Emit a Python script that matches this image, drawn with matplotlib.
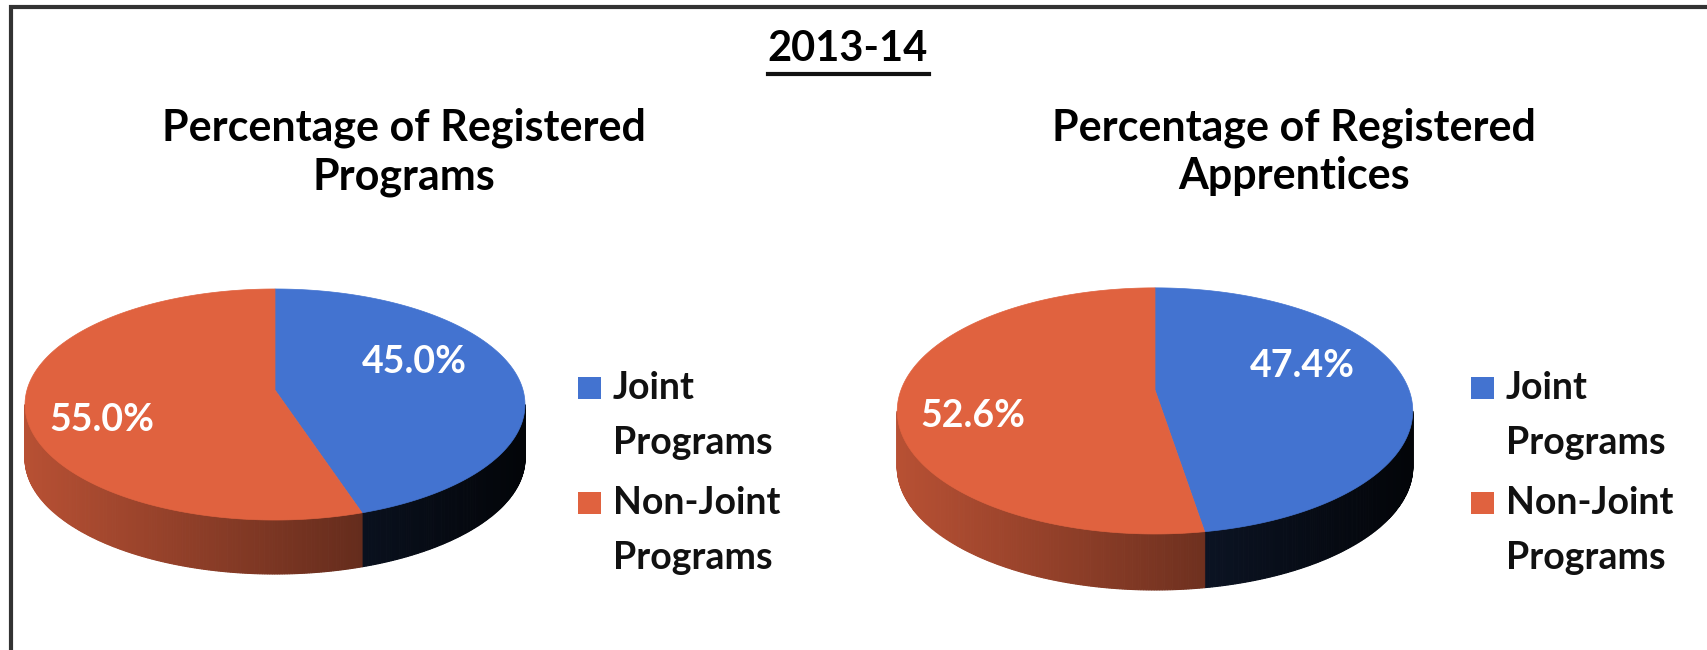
import numpy as np
import matplotlib
matplotlib.use('Agg')
import matplotlib.pyplot as plt
from matplotlib.patches import Polygon, Rectangle

# data
year_title = "2013-14"
chart_titles = ["Percentage of Registered\nPrograms", "Percentage of Registered\nApprentices"]
categories = ["Joint\nPrograms", "Non-Joint\nPrograms"]
programs_pct = [45.0, 55.0]
apprentices_pct = [47.4, 52.6]

colors = ['#4373D0', '#E0623F']
plt.rcParams['font.family'] = ['Lato', 'DejaVu Sans']

W, H = 1708, 650
fig = plt.figure(figsize=(W / 100, H / 100), dpi=100)
ax = fig.add_axes([0, 0, 1, 1])
ax.set_xlim(0, W)
ax.set_ylim(H, 0)
ax.axis('off')


class Pie3D:
    # circle seen from above with a bit of perspective (far side smaller)
    def __init__(self, cx, vy, A, K, q, depth):
        self.cx, self.vy, self.A, self.K, self.q, self.depth = cx, vy, A, K, q, depth

    def pt(self, th, r=1.0):
        t = np.radians(th)
        X, Y = r * np.sin(t), r * np.cos(t)
        s = 1.0 / (1.0 + self.q * Y)
        return self.cx + self.A * X * s, self.vy - self.K * Y * s


def shade(col, t, k0, k1):
    c = np.array(matplotlib.colors.to_rgb(col))
    return np.clip(c * (k0 - k1 * t), 0, 1)


def draw_pie(p, values):
    total = sum(values)
    edges = np.cumsum([0] + [v / total * 360 for v in values])
    shades = [(0.36, 0.32), (0.82, 0.55)]
    vis0 = np.degrees(np.arccos(-p.q))
    vis1 = 360 - vis0
    half = p.A / np.sqrt(1 - p.q ** 2)
    # side wall
    for i in range(len(values)):
        lo, hi = max(edges[i], vis0), min(edges[i + 1], vis1)
        if hi <= lo:
            continue
        steps = np.linspace(lo, hi, int(hi - lo) * 2 + 2)
        for t0, t1 in zip(steps[:-1], steps[1:]):
            x0, y0 = p.pt(t0)
            x1, y1 = p.pt(t1)
            frac = ((x0 + x1) / 2 - (p.cx - half)) / (2 * half)
            c = shade(colors[i], frac, *shades[i])
            ax.add_patch(Polygon([(x0, y0), (x1, y1), (x1, y1 + p.depth), (x0, y0 + p.depth)],
                                 closed=True, facecolor=c, edgecolor=c, lw=0.8))
    # top face
    for i in range(len(values)):
        th = np.linspace(edges[i], edges[i + 1], 300)
        xs, ys = p.pt(th)
        verts = [(p.cx, p.vy)] + list(zip(xs, ys))
        ax.add_patch(Polygon(verts, closed=True, facecolor=colors[i],
                             edgecolor=colors[i], lw=0.5))
    # data labels
    for i, v in enumerate(values):
        mid = (edges[i] + edges[i + 1]) / 2 - 13
        lx, ly = p.pt(mid, 0.68)
        ax.text(lx - 12, ly, f"{v:.1f}%", color='white', fontsize=27,
                fontweight='bold', ha='center', va='center')


def draw_legend(x, ys):
    for i, lab in enumerate(categories):
        y0 = ys[i]
        ax.add_patch(Rectangle((x, y0 - 11), 23, 22, facecolor=colors[i], edgecolor='none'))
        for j, line in enumerate(lab.split('\n')):
            ax.text(x + 35, y0 + j * 55, line, fontsize=27, fontweight='bold',
                    ha='left', va='center', color='#111111')


draw_pie(Pie3D(275, 390, 248, 113.7, 0.1255, 54), programs_pct)
draw_pie(Pie3D(1155, 390, 254, 119.5, 0.17, 56), apprentices_pct)

draw_legend(578, [388, 503])
draw_legend(1471, [388, 503])

# titles
ax.text(848, 49, year_title, fontsize=30, fontweight='bold', ha='center', va='center')
ax.plot([768, 929], [74, 74], color='#111111', lw=3)
for xc, t in zip([404, 1294], chart_titles):
    ax.text(xc, 152, t, fontsize=31, fontweight='bold', ha='center', va='center',
            linespacing=1.25)

# frame
ax.plot([11, 11, W], [H, 7, 7], color='#333333', lw=3, solid_joinstyle='miter')

fig.savefig("out.png", dpi=100)
